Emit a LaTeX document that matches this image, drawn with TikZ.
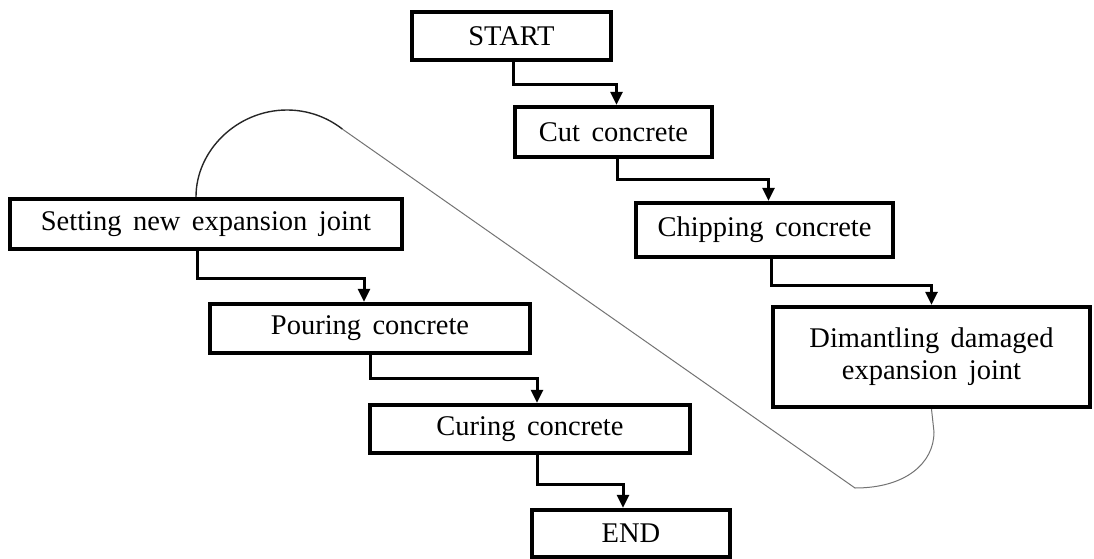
\documentclass[tikz,border=0pt]{standalone}
\usepackage{fontspec}
\setmainfont[WordSpace=1.6]{Liberation Serif}
\usetikzlibrary{arrows.meta,calc}
\tikzset{
    box/.style =    {rectangle,
                    fill=white,
                    draw=black,
                    text=black,
                    line width=4.4pt,
                    inner sep=0pt,
                    align=center,
                    font=\fontsize{28.5}{32}\selectfont},
    link/.style =   {draw=black,
                    line width=3pt,
                    ->},
    jointcurve/.style = {draw=black!85,
                    line width=1.4pt},
    jointline/.style = {draw=black!55,
                    line width=1pt},
    >={Triangle[width=12pt,length=13pt]}}

\begin{document}
\begin{tikzpicture}[x=1pt,y=-1pt]
    \useasboundingbox (0,0) rectangle (1094,559);
    % right column, top to bottom
    \node[box,minimum width=199pt,minimum height=48pt]  (start)     at (511.5,36)  {START};
    \node[box,minimum width=197pt,minimum height=50pt]  (cut)       at (613.5,132) {Cut concrete};
    \node[box,minimum width=257pt,minimum height=54pt]  (chip)      at (764.5,230) {Chipping concrete};
    \node[box,minimum width=317pt,minimum height=100pt] (dismantle) at (931.5,357) {Dimantling damaged\\expansion joint};
    % left column, top to bottom
    \node[box,minimum width=392pt,minimum height=50pt]  (setting)   at (206,224)   {Setting new expansion joint};
    \node[box,minimum width=320pt,minimum height=49pt]  (pour)      at (370,328.5) {Pouring concrete};
    \node[box,minimum width=320pt,minimum height=48pt]  (cure)      at (530,429)   {Curing concrete};
    \node[box,minimum width=198pt,minimum height=47pt]  (finish)    at (631,533.5) {END};

    % step arrows
    \draw[link] ([xshift=2pt]start.south)    -- ++(0,22) -| ([xshift=3pt]cut.north);
    \draw[link] ([xshift=4pt]cut.south)      -- ++(0,20) -| ([xshift=4pt]chip.north);
    \draw[link] ([xshift=7pt]chip.south)     -- ++(0,26) -| (dismantle.north);
    \draw[link] ([xshift=-9pt]setting.south) -- ++(0,27) -| ([xshift=-6pt]pour.north);
    \draw[link] (pour.south)                 -- ++(0,23) -| ([xshift=7pt]cure.north);
    \draw[link] ([xshift=7pt]cure.south)     -- ++(0,29) -| ([xshift=-8pt]finish.north);

    % return path from dismantling back to the new joint
    \draw[jointcurve] ([xshift=-10pt]setting.north)
        .. controls (196,150.3) and (237.3,110) .. (287,110)
        .. controls (307.1,110) and (326.6,116.7) .. (342.4,129.1)
        coordinate (bend);
    \draw[jointline] (bend) -- (855,488)
        .. controls (905.9,488) and (934,462.9) .. (934,432)
        -- (dismantle.south);
\end{tikzpicture}
\end{document}
